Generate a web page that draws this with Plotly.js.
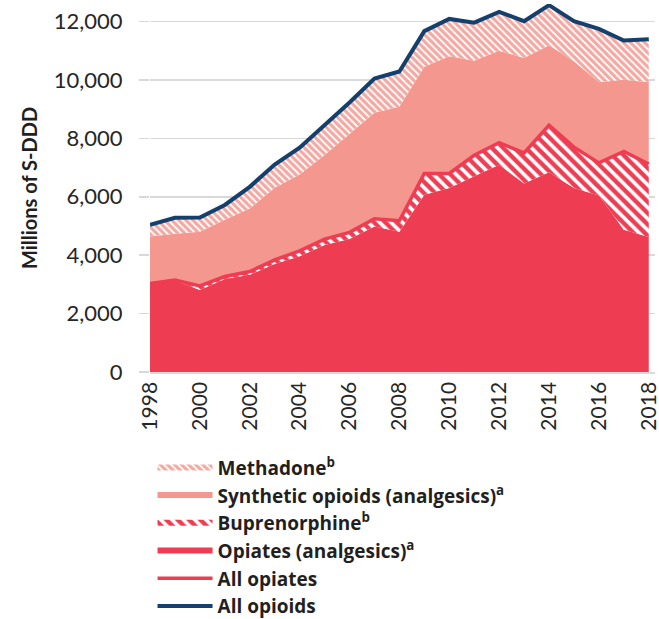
<!DOCTYPE html>
<html>
<head>
<meta charset="utf-8">
<script src="https://cdn.plot.ly/plotly-3.0.1.min.js"></script>
<style>html,body{margin:0;padding:0;background:#fff;}#chart{width:659px;height:619px;}</style>
</head>
<body>
<div id="chart"></div>
<script>
const years = [1998,1999,2000,2001,2002,2003,2004,2005,2006,2007,2008,2009,2010,2011,2012,2013,2014,2015,2016,2017,2018];
const opiates = [3000,3130,2810,3180,3330,3700,3960,4350,4550,4980,4800,6070,6300,6700,7100,6450,6840,6300,6040,4870,4620];
const buprenorphine = [30,20,140,90,110,140,190,200,230,270,380,730,500,720,750,1050,1610,1400,1120,2680,2500];
const synthetic = [1610,1580,1850,1940,2160,2470,2610,2880,3370,3630,3900,3650,4010,3240,3150,3250,2740,2940,2760,2460,2800];
const methadone = [400,550,490,510,740,790,920,1020,1080,1170,1210,1220,1280,1300,1330,1260,1370,1370,1830,1340,1470];
const yTicks = [0,2000,4000,6000,8000,10000,12000];
const yTickText = ['0','2,000','4,000','6,000','8,000','10,000','12,000'];
const xTicks = [1998,2000,2002,2004,2006,2008,2010,2012,2014,2016,2018];
const xTickText = ['1998','2000','2002','2004','2006','2008','2010','2012','2014','2016','2018'];

const allOpiates = years.map((_, i) => opiates[i] + buprenorphine[i]);
const allOpioids = years.map((_, i) => opiates[i] + buprenorphine[i] + synthetic[i] + methadone[i]);

const RED = '#EE3D52', SALMON = '#F4978E', NAVY = '#14406E';

const traces = [
  {x: years, y: opiates, name: 'Opiates (analgesics)<sup>a</sup>', stackgroup: 'one', mode: 'none',
   fillcolor: RED, legendrank: 4},
  {x: years, y: buprenorphine, name: 'Buprenorphine<sup>b</sup>', stackgroup: 'one', mode: 'none',
   fillcolor: RED, fillpattern: {shape: '\\', bgcolor: RED, fgcolor: '#ffffff', size: 8, solidity: 0.45}, legendrank: 3},
  {x: years, y: synthetic, name: 'Synthetic opioids (analgesics)<sup>a</sup>', stackgroup: 'one', mode: 'none',
   fillcolor: SALMON, legendrank: 2},
  {x: years, y: methadone, name: 'Methadone<sup>b</sup>', stackgroup: 'one', mode: 'none',
   fillcolor: '#F4ADA6', fillpattern: {shape: '\\', bgcolor: '#F3A9A2', fgcolor: '#ffffff', size: 5, solidity: 0.35}, legendrank: 1},
  {x: years, y: allOpiates, name: 'All opiates', mode: 'lines', line: {color: RED, width: 3.5}, legendrank: 5},
  {x: years, y: allOpioids, name: 'All opioids', mode: 'lines', line: {color: NAVY, width: 4}, legendrank: 6}
];

const layout = {
  width: 659, height: 619,
  margin: {l: 150, r: 4, t: 4, b: 247, autoexpand: false},
  paper_bgcolor: '#ffffff', plot_bgcolor: '#ffffff',
  font: {family: 'Lato, "Open Sans", sans-serif', color: '#262626'},
  showlegend: true,
  legend: {x: 0.005, y: -0.208, xanchor: 'left', yanchor: 'top', traceorder: 'normal',
    font: {size: 19, family: '"Open Sans", sans-serif', weight: 'bold', color: '#231F20'},
    itemwidth: 55, tracegroupgap: 0, bgcolor: 'rgba(0,0,0,0)'},
  xaxis: {range: [1998, 2018.25], tickvals: xTicks, ticktext: xTickText,
    tickangle: -90, tickfont: {size: 21, color: '#262626'}, showgrid: false, zeroline: false,
    showline: true, linecolor: '#D9D9D9', linewidth: 1.5, ticks: '', ticklabeloverflow: 'allow', fixedrange: true},
  yaxis: {range: [0, 12600], tickvals: yTicks, ticktext: yTickText, tickfont: {size: 22, color: '#262626'},
    showgrid: true, gridcolor: '#D9D9D9', gridwidth: 1.5, zeroline: false, showline: false,
    ticks: 'outside', ticklen: 10, tickcolor: '#D9D9D9', tickwidth: 1.5, ticklabelstandoff: 12,
    title: {text: 'Millions of S-DDD', font: {size: 20, weight: 'bold', color: '#231F20'}, standoff: 10}, fixedrange: true}
};

Plotly.newPlot('chart', traces, layout, {displayModeBar: false, staticPlot: true});
</script>
</body>
</html>
